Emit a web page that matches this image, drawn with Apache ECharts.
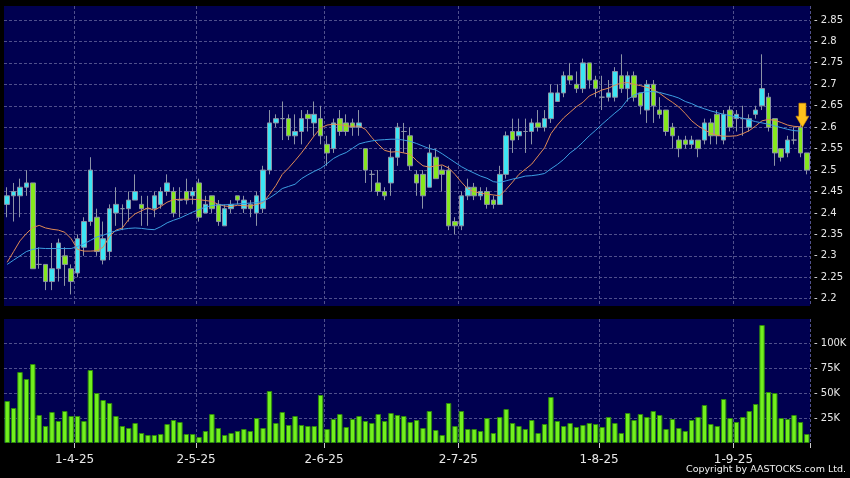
<!DOCTYPE html>
<html>
<head>
<meta charset="utf-8">
<script src="https://cdn.jsdelivr.net/npm/echarts@6.0.0/dist/echarts.min.js"></script>
<style>
  html, body { margin: 0; padding: 0; background: #000; }
  #main { width: 850px; height: 478px; }
</style>
</head>
<body>
<div id="main"></div>
<script>
// trading days, D-M-YY
const dates = [
  '17-3-25','18-3-25','19-3-25','20-3-25','21-3-25','24-3-25','25-3-25','26-3-25','27-3-25','28-3-25','31-3-25',
  '1-4-25','2-4-25','3-4-25','7-4-25','8-4-25','9-4-25','10-4-25','11-4-25','14-4-25','15-4-25','16-4-25','17-4-25','22-4-25','23-4-25','24-4-25','25-4-25','28-4-25','29-4-25','30-4-25',
  '2-5-25','6-5-25','7-5-25','8-5-25','9-5-25','12-5-25','13-5-25','14-5-25','15-5-25','16-5-25','19-5-25','20-5-25','21-5-25','22-5-25','23-5-25','26-5-25','27-5-25','28-5-25','29-5-25','30-5-25',
  '2-6-25','3-6-25','4-6-25','5-6-25','6-6-25','9-6-25','10-6-25','11-6-25','12-6-25','13-6-25','16-6-25','17-6-25','18-6-25','19-6-25','20-6-25','23-6-25','24-6-25','25-6-25','26-6-25','27-6-25','30-6-25',
  '2-7-25','3-7-25','4-7-25','7-7-25','8-7-25','9-7-25','10-7-25','11-7-25','14-7-25','15-7-25','16-7-25','17-7-25','18-7-25','21-7-25','22-7-25','23-7-25','24-7-25','25-7-25','28-7-25','29-7-25','30-7-25','31-7-25',
  '1-8-25','4-8-25','5-8-25','6-8-25','7-8-25','8-8-25','11-8-25','12-8-25','13-8-25','14-8-25','15-8-25','18-8-25','19-8-25','20-8-25','21-8-25','22-8-25','25-8-25','26-8-25','27-8-25','28-8-25','29-8-25',
  '1-9-25','2-9-25','3-9-25','4-9-25','5-9-25','8-9-25','9-9-25','10-9-25','11-9-25','12-9-25','15-9-25','16-9-25'
];

const tickLabels = ['1-4-25', '2-5-25', '2-6-25', '2-7-25', '1-8-25', '1-9-25'];

const opens = [
  2.42,2.44,2.44,2.46,2.47,2.28,2.28,2.24,2.27,2.30,
  2.27,2.26,2.32,2.38,2.39,2.29,2.31,2.40,2.41,2.41,
  2.43,2.42,2.41,2.41,2.42,2.45,2.45,2.43,2.45,2.44,
  2.47,2.40,2.44,2.42,2.37,2.41,2.44,2.41,2.42,2.40,
  2.41,2.50,2.61,2.62,2.62,2.58,2.59,2.63,2.61,2.62,
  2.56,2.55,2.62,2.61,2.61,2.60,2.55,2.49,2.47,2.45,
  2.47,2.53,2.59,2.58,2.49,2.49,2.46,2.53,2.50,2.50,
  2.38,2.37,2.44,2.46,2.44,2.45,2.43,2.42,2.49,2.59,
  2.58,2.59,2.59,2.61,2.60,2.62,2.66,2.68,2.72,2.70,
  2.69,2.75,2.71,2.67,2.67,2.67,2.72,2.69,2.72,2.68,
  2.64,2.70,2.64,2.64,2.60,2.57,2.57,2.56,2.57,2.57,
  2.61,2.63,2.57,2.64,2.62,2.62,2.60,2.63,2.65,2.67,
  2.62,2.55,2.54,2.57,2.60,2.54
];
const closes = [
  2.44,2.45,2.46,2.47,2.27,2.28,2.24,2.27,2.33,2.28,
  2.24,2.34,2.38,2.50,2.31,2.34,2.41,2.42,2.41,2.43,
  2.45,2.41,2.41,2.44,2.45,2.47,2.40,2.43,2.43,2.45,
  2.39,2.42,2.41,2.38,2.41,2.42,2.43,2.43,2.41,2.44,
  2.50,2.61,2.62,2.62,2.58,2.59,2.62,2.62,2.63,2.58,
  2.54,2.61,2.59,2.59,2.60,2.61,2.50,2.49,2.45,2.44,
  2.53,2.60,2.59,2.51,2.47,2.44,2.54,2.48,2.49,2.37,
  2.37,2.44,2.46,2.44,2.45,2.42,2.42,2.49,2.58,2.57,
  2.59,2.59,2.61,2.60,2.62,2.68,2.68,2.72,2.71,2.69,
  2.75,2.71,2.69,2.67,2.68,2.73,2.69,2.72,2.67,2.65,
  2.70,2.65,2.63,2.59,2.58,2.55,2.56,2.57,2.55,2.61,
  2.58,2.58,2.63,2.60,2.63,2.62,2.62,2.64,2.69,2.60,
  2.54,2.53,2.57,2.57,2.54,2.50
];
const lows = [
  2.39,2.38,2.39,2.44,2.27,2.27,2.22,2.22,2.24,2.23,
  2.21,2.25,2.30,2.37,2.30,2.28,2.29,2.37,2.36,2.38,
  2.43,2.37,2.37,2.39,2.41,2.44,2.39,2.39,2.42,2.42,
  2.38,2.40,2.40,2.37,2.37,2.40,2.42,2.40,2.39,2.37,
  2.40,2.49,2.60,2.57,2.57,2.56,2.56,2.59,2.58,2.56,
  2.51,2.54,2.58,2.58,2.58,2.58,2.47,2.45,2.44,2.43,
  2.44,2.51,2.54,2.50,2.44,2.41,2.46,2.48,2.45,2.36,
  2.35,2.36,2.43,2.43,2.43,2.41,2.41,2.42,2.48,2.54,
  2.57,2.54,2.56,2.59,2.59,2.61,2.66,2.67,2.70,2.68,
  2.68,2.69,2.67,2.64,2.66,2.66,2.68,2.66,2.66,2.63,
  2.61,2.61,2.62,2.58,2.55,2.53,2.55,2.55,2.53,2.56,
  2.56,2.56,2.56,2.59,2.59,2.58,2.59,2.62,2.64,2.59,
  2.51,2.52,2.53,2.56,2.53,2.49
];
const highs = [
  2.46,2.47,2.48,2.50,2.47,2.32,2.28,2.33,2.34,2.32,
  2.28,2.35,2.39,2.53,2.41,2.38,2.42,2.46,2.42,2.45,
  2.49,2.44,2.44,2.45,2.46,2.49,2.46,2.46,2.48,2.46,
  2.48,2.44,2.44,2.43,2.42,2.43,2.44,2.44,2.43,2.45,
  2.51,2.64,2.63,2.66,2.63,2.63,2.64,2.64,2.66,2.65,
  2.58,2.62,2.64,2.63,2.62,2.64,2.55,2.50,2.50,2.46,
  2.55,2.61,2.61,2.60,2.50,2.50,2.56,2.55,2.51,2.51,
  2.39,2.45,2.48,2.47,2.46,2.46,2.44,2.51,2.59,2.62,
  2.62,2.62,2.62,2.64,2.64,2.70,2.70,2.73,2.75,2.73,
  2.76,2.75,2.72,2.72,2.71,2.74,2.77,2.73,2.73,2.68,
  2.71,2.71,2.67,2.64,2.61,2.58,2.58,2.58,2.57,2.62,
  2.62,2.64,2.64,2.65,2.64,2.65,2.63,2.65,2.77,2.68,
  2.62,2.55,2.58,2.60,2.61,2.54
];

const volumes = [
  42000,35000,71000,64000,79000,28000,17000,31000,22000,32000,
  27000,27000,22000,73000,50000,43000,40000,27000,17000,15000,
  20000,10000,8000,8000,9000,19000,23000,21000,9000,9000,
  6000,12000,29000,15000,8000,10000,12000,14000,12000,25000,
  15000,52000,20000,31000,18000,27000,18000,17000,17000,48000,
  14000,24000,29000,16000,24000,27000,22000,20000,29000,22000,
  30000,28000,27000,21000,23000,15000,32000,13000,8000,40000,
  17000,32000,14000,14000,12000,25000,10000,26000,34000,20000,
  17000,14000,23000,10000,19000,46000,22000,17000,20000,16000,
  18000,20000,19000,16000,26000,20000,10000,30000,23000,29000,
  26000,32000,28000,14000,24000,15000,12000,23000,26000,38000,
  19000,17000,44000,25000,21000,26000,32000,39000,118000,51000,
  50000,25000,24000,28000,21000,9000
];

const ma10 = [
  2.285,2.31,2.335,2.352,2.366,2.371,2.365,2.362,2.36,2.355,
  2.34,2.315,2.311,2.311,2.312,2.32,2.345,2.36,2.365,2.385,
  2.398,2.405,2.412,2.406,2.415,2.425,2.431,2.432,2.432,2.432,
  2.431,2.429,2.427,2.42,2.416,2.415,2.418,2.417,2.416,2.42,
  2.424,2.443,2.464,2.49,2.505,2.522,2.54,2.56,2.58,2.598,
  2.605,2.607,2.606,2.603,2.602,2.603,2.595,2.576,2.56,2.546,
  2.542,2.543,2.54,2.537,2.522,2.51,2.507,2.51,2.512,2.505,
  2.49,2.472,2.456,2.45,2.446,2.444,2.442,2.44,2.455,2.472,
  2.49,2.502,2.514,2.533,2.552,2.585,2.605,2.622,2.635,2.648,
  2.658,2.673,2.68,2.687,2.691,2.698,2.703,2.704,2.70,2.697,
  2.693,2.688,2.679,2.668,2.658,2.647,2.632,2.615,2.603,2.594,
  2.586,2.581,2.579,2.579,2.58,2.585,2.592,2.603,2.615,2.618,
  2.616,2.611,2.605,2.602,2.601,null
];
const ma20 = [
  2.28,2.29,2.30,2.31,2.315,2.318,2.317,2.317,2.317,2.317,
  2.317,2.322,2.328,2.336,2.344,2.348,2.354,2.358,2.362,2.364,
  2.365,2.364,2.362,2.361,2.368,2.377,2.383,2.388,2.395,2.402,
  2.408,2.414,2.417,2.419,2.419,2.42,2.421,2.422,2.423,2.424,
  2.427,2.435,2.445,2.457,2.462,2.467,2.48,2.489,2.497,2.504,
  2.515,2.527,2.535,2.541,2.551,2.561,2.565,2.568,2.57,2.571,
  2.572,2.572,2.57,2.567,2.562,2.556,2.55,2.547,2.538,2.528,
  2.518,2.508,2.5,2.493,2.486,2.481,2.473,2.471,2.475,2.479,
  2.482,2.486,2.487,2.489,2.492,2.503,2.513,2.525,2.54,2.551,
  2.565,2.58,2.593,2.607,2.62,2.633,2.645,2.665,2.675,2.68,
  2.683,2.683,2.681,2.677,2.673,2.668,2.66,2.655,2.648,2.643,
  2.638,2.634,2.63,2.627,2.624,2.621,2.617,2.613,2.61,2.607,
  2.603,2.599,2.595,2.592,2.591,null
];

// signal arrow
const signalDate = '15-9-25';
const signalPrice = 2.60;

const candleData = dates.map((d, i) => [opens[i], closes[i], lows[i], highs[i]]);
const monthStarts = tickLabels.map((t) => dates.indexOf(t));
const isMonthStart = (idx) => monthStarts.indexOf(idx) >= 0;

const gridLine = { color: '#50508c', width: 1, type: [3, 2] };
const labelFont = { color: '#e8e8e8', fontFamily: 'DejaVu Sans' };

let option = {
  backgroundColor: '#000',
  animation: false,
  title: {
    text: 'Copyright by AASTOCKS.com Ltd.',
    right: 4,
    top: 465,
    padding: 0,
    textStyle: { color: '#f0f0f0', fontSize: 9.5, fontWeight: 'normal', fontFamily: 'DejaVu Sans' },
  },
  grid: [
    { left: 4, top: 6, width: 806, height: 300, show: true, backgroundColor: '#000050', borderWidth: 0 },
    { left: 4, top: 319, width: 806, height: 124, show: true, backgroundColor: '#000050', borderWidth: 0 },
  ],
  xAxis: [
    {
      type: 'category',
      gridIndex: 0,
      data: dates,
      boundaryGap: true,
      axisLine: { show: false },
      axisTick: { show: false, interval: isMonthStart },
      axisLabel: { show: false },
      splitLine: { show: true, interval: isMonthStart, lineStyle: gridLine },
    },
    {
      type: 'category',
      gridIndex: 1,
      data: dates,
      boundaryGap: true,
      axisLine: { show: false },
      axisTick: { show: true, interval: isMonthStart, length: 5, lineStyle: { color: '#cccccc' } },
      axisLabel: {
        interval: isMonthStart,
        margin: 11,
        fontSize: 12,
        padding: [0, 6, 0, 0],
        ...labelFont,
      },
      splitLine: { show: true, interval: isMonthStart, lineStyle: gridLine },
    },
  ],
  yAxis: [
    {
      type: 'value',
      gridIndex: 0,
      position: 'right',
      min: 2.183,
      max: 2.8827,
      splitNumber: 14,
      axisLine: { show: false },
      axisTick: { show: false },
      axisLabel: {
        margin: 4,
        fontSize: 10,
        showMinLabel: false,
        showMaxLabel: false,
        formatter: (v) => '- ' + v,
        ...labelFont,
      },
      splitLine: { show: true, showMinLine: false, showMaxLine: false, lineStyle: gridLine },
    },
    {
      type: 'value',
      gridIndex: 1,
      position: 'right',
      min: 0,
      max: 124000,
      interval: 25000,
      axisLine: { show: false },
      axisTick: { show: false },
      axisLabel: {
        margin: 4,
        fontSize: 10,
        showMinLabel: false,
        showMaxLabel: false,
        formatter: (v) => '- ' + v / 1000 + 'K',
        ...labelFont,
      },
      splitLine: { show: true, showMinLine: false, showMaxLine: false, lineStyle: gridLine },
    },
  ],
  series: [
    {
      name: 'Price',
      type: 'candlestick',
      xAxisIndex: 0,
      yAxisIndex: 0,
      barWidth: 5,
      data: candleData,
      itemStyle: {
        color: '#3ce6f4',
        color0: '#86e81e',
        borderColor: '#8c93a6',
        borderColor0: '#8c93a6',
        borderColorDoji: '#8c93a6',
        borderWidth: 1,
      },
      markPoint: {
        silent: true,
        data: [
          {
            coord: [signalDate, signalPrice],
            symbol: 'path://M3,0 L10,0 L10,13 L13,13 L6.5,24 L0,13 L3,13 Z',
            symbolSize: [13, 24],
            symbolOffset: [2, -12],
            itemStyle: { color: '#ffc21c', borderColor: '#d89000', borderWidth: 0.6 },
            label: { show: false },
          },
        ],
      },
    },
    {
      name: 'MA10',
      type: 'line',
      xAxisIndex: 0,
      yAxisIndex: 0,
      data: ma10,
      symbol: 'none',
      lineStyle: { color: '#e08a55', width: 1 },
    },
    {
      name: 'MA20',
      type: 'line',
      xAxisIndex: 0,
      yAxisIndex: 0,
      data: ma20,
      symbol: 'none',
      lineStyle: { color: '#3d9fe2', width: 1 },
    },
    {
      name: 'Volume',
      type: 'bar',
      xAxisIndex: 1,
      yAxisIndex: 1,
      barWidth: 5.4,
      data: volumes,
      itemStyle: { color: '#72f01e', borderColor: '#2e8a0c', borderWidth: 1 },
    },
  ],
};

let chartDom = document.getElementById('main');
let myChart = echarts.init(chartDom);
option && myChart.setOption(option);
</script>
</body>
</html>
